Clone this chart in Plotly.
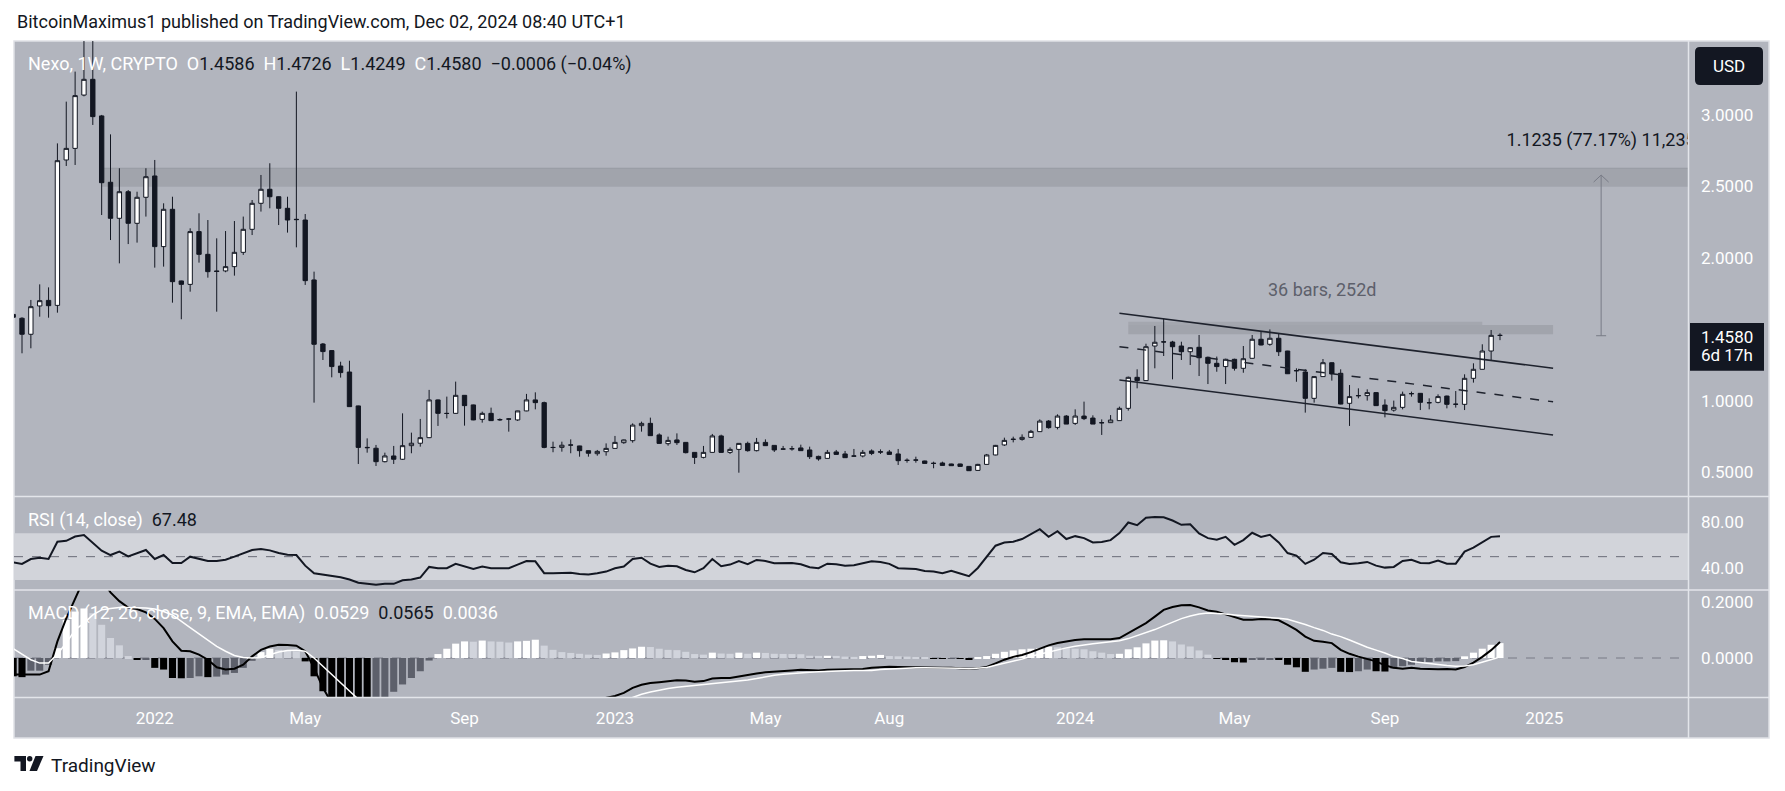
import plotly.graph_objects as go
import pandas as pd

W, H = 1785, 791
FONT = "Roboto, sans-serif"
DARK = "#131722"
BG = "#b2b5be"

# ---------------- data (weekly NEXO/USD) ----------------
FIRST_WEEK = "2021-09-13"
OPEN = [1.605, 1.578, 1.466, 1.664, 1.703, 1.668, 2.685, 2.766, 3.139, 3.249,
        2.993, 2.529, 2.277, 2.463, 2.242, 2.424, 2.573, 2.079, 2.340, 1.839,
        1.815, 2.184, 2.025, 1.909, 1.909, 1.939, 2.039, 2.200, 2.382, 2.480,
        2.428, 2.347, 2.270, 2.265, 1.846, 1.398, 1.352, 1.244, 1.202, 0.965,
        0.675, 0.669, 0.575, 0.615, 0.592, 0.687, 0.704, 0.743, 1.007, 0.913,
        0.913, 1.039, 0.972, 0.871, 0.913, 0.870, 0.874, 0.867, 0.930, 1.007,
        0.988, 0.675, 0.675, 0.692, 0.685, 0.652, 0.631, 0.645, 0.668, 0.708,
        0.722, 0.827, 0.843, 0.762, 0.701, 0.727, 0.710, 0.640, 0.605, 0.640,
        0.755, 0.640, 0.661, 0.703, 0.652, 0.710, 0.689, 0.664, 0.666, 0.671,
        0.657, 0.612, 0.598, 0.643, 0.629, 0.615, 0.615, 0.650, 0.645, 0.643,
        0.629, 0.585, 0.587, 0.580, 0.564, 0.566, 0.559, 0.559, 0.542, 0.514,
        0.556, 0.622, 0.692, 0.730, 0.731, 0.745, 0.785, 0.859, 0.815, 0.894,
        0.843, 0.894, 0.880, 0.848, 0.848, 0.862, 0.948, 1.165, 1.142, 1.384,
        1.412, 1.412, 1.384, 1.344, 1.375, 1.305, 1.263, 1.240, 1.291, 1.228,
        1.298, 1.431, 1.396, 1.438, 1.349, 1.212, 1.202, 1.018, 1.170, 1.267,
        1.193, 0.983, 1.036, 1.037, 1.058, 0.971, 0.936, 0.955, 1.050, 1.053,
        0.988, 0.990, 1.034, 0.976, 0.976, 1.158, 1.221, 1.349, 1.4586]
HIGH = [1.612, 1.585, 1.706, 1.815, 1.794, 2.801, 3.093, 3.303, 3.600, 3.560,
        3.000, 2.864, 2.627, 2.475, 2.463, 2.627, 2.685, 2.382, 2.428, 1.841,
        2.207, 2.312, 2.265, 2.137, 2.188, 2.258, 2.289, 2.405, 2.580, 2.662,
        2.430, 2.428, 3.163, 2.307, 1.904, 1.405, 1.354, 1.274, 1.281, 0.967,
        0.738, 0.692, 0.638, 0.685, 0.913, 0.778, 0.874, 1.077, 1.010, 1.030,
        1.135, 1.041, 0.974, 0.925, 0.953, 0.878, 0.880, 0.931, 1.049, 1.060,
        0.995, 0.715, 0.715, 0.731, 0.686, 0.653, 0.657, 0.703, 0.755, 0.730,
        0.843, 0.855, 0.883, 0.773, 0.750, 0.773, 0.712, 0.641, 0.685, 0.769,
        0.764, 0.675, 0.705, 0.715, 0.741, 0.731, 0.690, 0.685, 0.685, 0.694,
        0.680, 0.617, 0.657, 0.657, 0.650, 0.664, 0.657, 0.661, 0.661, 0.657,
        0.664, 0.598, 0.610, 0.582, 0.575, 0.575, 0.561, 0.561, 0.545, 0.560,
        0.629, 0.692, 0.743, 0.750, 0.766, 0.797, 0.871, 0.866, 0.906, 0.901,
        0.941, 0.995, 0.899, 0.871, 0.901, 0.960, 1.170, 1.221, 1.400, 1.524,
        1.577, 1.420, 1.414, 1.375, 1.461, 1.310, 1.310, 1.295, 1.295, 1.384,
        1.461, 1.484, 1.500, 1.468, 1.350, 1.228, 1.221, 1.172, 1.293, 1.270,
        1.221, 1.111, 1.088, 1.081, 1.060, 1.011, 1.002, 1.065, 1.065, 1.055,
        1.018, 1.046, 1.037, 1.069, 1.186, 1.263, 1.396, 1.496, 1.4726]
LOW = [1.578, 1.333, 1.368, 1.589, 1.582, 1.617, 2.643, 2.650, 3.130, 2.930,
       2.300, 2.125, 1.962, 2.097, 2.107, 2.289, 1.932, 1.939, 1.687, 1.571,
       1.764, 1.967, 1.862, 1.624, 1.900, 1.876, 2.021, 2.160, 2.324, 2.347,
       2.230, 2.177, 2.074, 1.811, 0.988, 1.286, 1.165, 1.163, 0.958, 0.559,
       0.638, 0.545, 0.570, 0.559, 0.587, 0.634, 0.680, 0.740, 0.825, 0.878,
       0.911, 0.827, 0.865, 0.848, 0.860, 0.860, 0.785, 0.860, 0.928, 0.941,
       0.669, 0.641, 0.645, 0.634, 0.610, 0.610, 0.617, 0.617, 0.665, 0.700,
       0.708, 0.785, 0.757, 0.700, 0.687, 0.692, 0.633, 0.559, 0.598, 0.638,
       0.638, 0.629, 0.498, 0.645, 0.647, 0.685, 0.643, 0.657, 0.652, 0.651,
       0.594, 0.582, 0.597, 0.625, 0.602, 0.610, 0.605, 0.621, 0.629, 0.625,
       0.552, 0.568, 0.568, 0.561, 0.529, 0.548, 0.545, 0.540, 0.510, 0.512,
       0.555, 0.620, 0.685, 0.710, 0.722, 0.741, 0.785, 0.806, 0.801, 0.838,
       0.832, 0.866, 0.838, 0.762, 0.847, 0.862, 0.932, 1.088, 1.140, 1.228,
       1.314, 1.151, 1.286, 1.251, 1.174, 1.118, 1.204, 1.118, 1.212, 1.197,
       1.296, 1.389, 1.386, 1.314, 1.188, 1.134, 0.918, 0.988, 1.168, 1.142,
       0.976, 0.825, 1.018, 1.002, 0.965, 0.885, 0.925, 0.941, 1.030, 0.936,
       0.941, 0.983, 0.948, 0.953, 0.936, 1.128, 1.220, 1.286, 1.4249]
CLOSE = [1.585, 1.466, 1.659, 1.701, 1.666, 2.680, 2.766, 3.135, 3.249, 2.988,
         2.526, 2.277, 2.463, 2.242, 2.424, 2.568, 2.079, 2.340, 1.834, 1.815,
         2.184, 2.025, 1.904, 1.905, 1.939, 2.039, 2.200, 2.382, 2.480, 2.428,
         2.347, 2.265, 2.268, 1.841, 1.396, 1.345, 1.240, 1.198, 0.960, 0.675,
         0.673, 0.575, 0.615, 0.592, 0.687, 0.704, 0.743, 1.007, 0.913, 0.912,
         1.039, 0.967, 0.867, 0.913, 0.862, 0.868, 0.873, 0.930, 1.007, 0.988,
         0.675, 0.674, 0.690, 0.691, 0.652, 0.634, 0.647, 0.668, 0.710, 0.727,
         0.831, 0.843, 0.757, 0.703, 0.724, 0.708, 0.638, 0.605, 0.640, 0.755,
         0.640, 0.661, 0.703, 0.652, 0.710, 0.687, 0.657, 0.663, 0.665, 0.652,
         0.610, 0.594, 0.640, 0.626, 0.603, 0.614, 0.640, 0.633, 0.642, 0.626,
         0.582, 0.584, 0.586, 0.563, 0.563, 0.549, 0.547, 0.542, 0.512, 0.556,
         0.622, 0.689, 0.724, 0.732, 0.745, 0.787, 0.859, 0.813, 0.894, 0.838,
         0.894, 0.876, 0.838, 0.847, 0.866, 0.948, 1.165, 1.142, 1.379, 1.410,
         1.413, 1.379, 1.344, 1.372, 1.302, 1.263, 1.240, 1.291, 1.228, 1.295,
         1.431, 1.391, 1.438, 1.344, 1.190, 1.211, 1.018, 1.170, 1.267, 1.188,
         0.978, 1.030, 1.037, 1.058, 0.967, 0.932, 0.955, 1.046, 1.051, 0.990,
         0.987, 1.030, 0.976, 0.977, 1.158, 1.221, 1.349, 1.4586, 1.4580]

RSI = [45.2, 43.8, 48.0, 49.1, 48.0, 62.8, 63.6, 67.3, 68.5, 62.2,
       55.1, 51.4, 54.3, 50.3, 53.1, 55.7, 48.0, 51.4, 44.6, 44.6,
       50.0, 48.0, 46.3, 46.3, 47.4, 50.0, 52.8, 55.7, 56.5, 55.4,
       53.1, 51.7, 51.4, 42.3, 35.8, 34.7, 33.5, 32.4, 30.4, 27.6,
       26.7, 25.9, 26.7, 26.7, 29.8, 30.4, 32.1, 41.2, 40.1, 40.1,
       43.8, 41.8, 39.5, 41.5, 40.1, 40.1, 40.1, 43.2, 46.3, 46.0,
       35.8, 35.8, 36.1, 36.1, 35.2, 34.7, 35.8, 37.2, 40.1, 41.5,
       48.0, 49.1, 44.0, 41.2, 42.3, 41.8, 38.6, 36.6, 40.1, 48.0,
       41.8, 43.2, 46.3, 43.5, 47.2, 46.3, 44.3, 44.6, 44.6, 43.5,
       40.9, 40.1, 44.0, 43.5, 42.3, 42.6, 44.3, 46.0, 45.5, 43.8,
       40.1, 40.1, 39.5, 37.8, 37.2, 35.8, 37.8, 35.5, 33.2, 40.3,
       50.0, 59.4, 62.2, 62.8, 65.1, 69.0, 73.6, 67.0, 71.9, 65.1,
       67.6, 65.9, 62.2, 62.5, 64.2, 70.2, 79.3, 77.0, 83.5, 84.1,
       83.8, 81.0, 77.3, 77.8, 69.9, 65.9, 64.5, 67.0, 60.2, 64.2,
       70.5, 67.0, 68.8, 62.2, 53.1, 50.9, 43.8, 47.4, 53.1, 52.3,
       45.2, 43.8, 44.3, 45.5, 42.3, 40.6, 41.2, 46.3, 47.4, 44.6,
       44.3, 46.6, 44.0, 44.0, 54.3, 57.7, 62.2, 67.0, 67.48]

MACD = [-0.059, -0.059, -0.059, -0.059, -0.047, 0.059, 0.141, 0.212, 0.280, 0.310,
        0.280, 0.233, 0.202, 0.179, 0.174, 0.162, 0.139, 0.106, 0.059, 0.026,
        0.024, 0.012, -0.006, -0.033, -0.041, -0.038, -0.024, 0.006, 0.029, 0.041,
        0.047, 0.046, 0.044, 0.024, -0.035, -0.106, -0.160, -0.200, -0.240, -0.290,
        -0.310, -0.320, -0.320, -0.310, -0.300, -0.280, -0.260, -0.240, -0.235, -0.225,
        -0.210, -0.200, -0.195, -0.190, -0.185, -0.180, -0.175, -0.170, -0.160, -0.150,
        -0.155, -0.160, -0.160, -0.158, -0.155, -0.152, -0.148, -0.142, -0.135, -0.124,
        -0.106, -0.095, -0.089, -0.086, -0.082, -0.079, -0.080, -0.084, -0.082, -0.073,
        -0.071, -0.071, -0.066, -0.060, -0.055, -0.051, -0.048, -0.046, -0.044, -0.042,
        -0.044, -0.044, -0.042, -0.041, -0.041, -0.041, -0.039, -0.035, -0.033, -0.031,
        -0.032, -0.033, -0.033, -0.033, -0.034, -0.035, -0.035, -0.036, -0.038, -0.036,
        -0.032, -0.019, -0.006, 0.004, 0.011, 0.021, 0.033, 0.045, 0.053, 0.059,
        0.064, 0.067, 0.067, 0.067, 0.067, 0.071, 0.089, 0.104, 0.124, 0.147,
        0.171, 0.181, 0.187, 0.188, 0.180, 0.169, 0.164, 0.155, 0.146, 0.136,
        0.136, 0.139, 0.138, 0.134, 0.118, 0.100, 0.076, 0.061, 0.058, 0.053,
        0.029, 0.015, 0.005, -0.004, -0.012, -0.026, -0.035, -0.038, -0.035, -0.038,
        -0.040, -0.040, -0.039, -0.041, -0.032, -0.016, 0.004, 0.028, 0.0565]

SIGNAL = [0.033, 0.014, -0.006, -0.018, -0.018, 0.014, 0.053, 0.100, 0.124, 0.153,
          0.171, 0.176, 0.179, 0.179, 0.179, 0.178, 0.174, 0.165, 0.153, 0.132,
          0.108, 0.086, 0.065, 0.041, 0.024, 0.009, 0.002, 0.000, 0.002, 0.012,
          0.021, 0.027, 0.028, 0.024, 0.000, -0.029, -0.059, -0.088, -0.118, -0.145,
          -0.175, -0.205, -0.225, -0.240, -0.250, -0.255, -0.258, -0.255, -0.249, -0.258,
          -0.261, -0.259, -0.254, -0.252, -0.244, -0.239, -0.230, -0.229, -0.221, -0.215,
          -0.199, -0.189, -0.181, -0.176, -0.170, -0.164, -0.160, -0.158, -0.155, -0.152,
          -0.140, -0.129, -0.121, -0.114, -0.108, -0.104, -0.101, -0.098, -0.095, -0.092,
          -0.087, -0.084, -0.081, -0.078, -0.073, -0.067, -0.061, -0.058, -0.055, -0.052,
          -0.051, -0.049, -0.047, -0.046, -0.045, -0.044, -0.045, -0.044, -0.041, -0.039,
          -0.038, -0.036, -0.035, -0.035, -0.035, -0.035, -0.035, -0.036, -0.038, -0.036,
          -0.034, -0.026, -0.019, -0.011, -0.004, 0.006, 0.014, 0.022, 0.029, 0.036,
          0.042, 0.047, 0.051, 0.054, 0.058, 0.061, 0.069, 0.079, 0.091, 0.101,
          0.114, 0.128, 0.140, 0.149, 0.156, 0.160, 0.159, 0.156, 0.153, 0.151,
          0.148, 0.146, 0.144, 0.141, 0.138, 0.129, 0.119, 0.108, 0.098, 0.085,
          0.076, 0.064, 0.051, 0.038, 0.028, 0.018, 0.005, -0.002, -0.012, -0.016,
          -0.021, -0.025, -0.027, -0.029, -0.028, -0.024, -0.015, -0.008, 0.0036]

HIST = [-0.065, -0.068, -0.045, -0.045, -0.024, 0.035, 0.135, 0.165, 0.176, 0.159,
        0.118, 0.071, 0.045, 0.007, -0.005, -0.004, -0.035, -0.041, -0.071, -0.072,
        -0.071, -0.065, -0.068, -0.066, -0.059, -0.053, -0.035, -0.010, 0.021, 0.033,
        0.029, 0.026, 0.024, -0.012, -0.065, -0.118, -0.140, -0.150, -0.160, -0.170,
        -0.175, -0.160, -0.140, -0.120, -0.094, -0.071, -0.047, -0.009, 0.014, 0.033,
        0.051, 0.059, 0.058, 0.062, 0.059, 0.058, 0.055, 0.059, 0.061, 0.065,
        0.044, 0.029, 0.021, 0.018, 0.015, 0.012, 0.011, 0.016, 0.020, 0.028,
        0.034, 0.040, 0.039, 0.033, 0.029, 0.028, 0.022, 0.014, 0.012, 0.019,
        0.016, 0.015, 0.019, 0.015, 0.019, 0.018, 0.015, 0.0145, 0.014, 0.0135,
        0.008, 0.0075, 0.008, 0.0075, 0.005, 0.004, 0.007, 0.008, 0.011, 0.007,
        0.006, 0.005, 0.002, 0.001, -0.001, -0.0015, -0.0015, -0.002, -0.004, 0.001,
        0.007, 0.015, 0.022, 0.027, 0.031, 0.033, 0.035, 0.040, 0.038, 0.036,
        0.033, 0.031, 0.024, 0.019, 0.014, 0.015, 0.031, 0.038, 0.052, 0.062,
        0.063, 0.059, 0.048, 0.041, 0.027, 0.012, -0.001, -0.004, -0.015, -0.016,
        -0.007, -0.006, -0.005, -0.007, -0.024, -0.033, -0.049, -0.041, -0.038, -0.035,
        -0.049, -0.050, -0.047, -0.041, -0.047, -0.048, -0.038, -0.029, -0.024, -0.018,
        -0.014, -0.012, -0.012, -0.011, 0.006, 0.019, 0.033, 0.047, 0.0529]

DATES = pd.date_range(FIRST_WEEK, periods=len(CLOSE), freq="7D")

DATE_TICKS = ["2022-01-03", "2022-05-02", "2022-09-05", "2023-01-02", "2023-05-01",
              "2023-08-07", "2024-01-01", "2024-05-06", "2024-09-02", "2025-01-06"]
DATE_LABELS = ["2022", "May", "Sep", "2023", "May", "Aug", "2024", "May", "Sep", "2025"]
PRICE_TICKS = [0.5, 1.0, 2.0, 2.5, 3.0]
RSI_TICKS = [40, 80]
MACD_TICKS = [0.0, 0.2]

# drawings
RESIST_START, RESIST_LOW, RESIST_HIGH = "2021-11-22", 2.498, 2.627
CH_START, CH_END = "2024-02-05", "2025-01-13"
CH_UPPER = (1.613, 1.228)
CH_MID = (1.379, 0.994)
CH_LOWER = (1.146, 0.762)
BOX_START = "2024-02-12"
BOX_A = ("2024-11-18", 1.531, 1.554)
BOX_B = ("2025-01-13", 1.466, 1.531)
MEASURE_X, MEASURE_FROM, MEASURE_TO = "2025-02-20", 1.4559, 2.5794
MEASURE_LABEL_Y = 2.813
RANGE_LABEL_X, RANGE_LABEL_Y = "2024-07-15", 1.780

X_RANGE = ["2021-09-13 16:00", "2025-04-29 17:00"]

# ---------------- helpers (pixel layout -> paper) ----------------
def px(x):
    return x / W

def py(y):
    return 1 - y / H

def rrect_path(x0, y0, x1, y1, r):
    pts = [("M", x0 + r, y0), ("L", x1 - r, y0), ("Q", x1, y0, x1, y0 + r),
           ("L", x1, y1 - r), ("Q", x1, y1, x1 - r, y1), ("L", x0 + r, y1),
           ("Q", x0, y1, x0, y1 - r), ("L", x0, y0 + r), ("Q", x0, y0, x0 + r, y0)]
    s = ""
    for p in pts:
        if p[0] == "Q":
            s += f"Q{px(p[1]):.6f},{py(p[2]):.6f} {px(p[3]):.6f},{py(p[4]):.6f} "
        else:
            s += f"{p[0]}{px(p[1]):.6f},{py(p[2]):.6f} "
    return s + "Z"

X_DOM = [px(14), px(1688)]
Y_MAIN = [py(496), py(41)]
Y_RSI = [py(590), py(497)]
Y_MACD = [py(697), py(590)]

# histogram colours (TradingView style, monochrome theme)
hist_colors = []
prev = 0.0
for h in HIST:
    if h >= 0:
        hist_colors.append("#ffffff" if h > prev else "#d1d4dc")
    else:
        hist_colors.append("#000000" if h < prev else "#5d606b")
    prev = h

fig = go.Figure()

fig.add_trace(go.Candlestick(
    x=DATES, open=OPEN, high=HIGH, low=LOW, close=CLOSE,
    increasing=dict(line=dict(color=DARK, width=1), fillcolor="#ffffff"),
    decreasing=dict(line=dict(color=DARK, width=1), fillcolor=DARK),
    whiskerwidth=0, showlegend=False, hoverinfo="skip", xaxis="x", yaxis="y"))

fig.add_trace(go.Scatter(x=DATES, y=RSI, mode="lines", line=dict(color=DARK, width=2),
                         showlegend=False, hoverinfo="skip", xaxis="x", yaxis="y2"))

fig.add_trace(go.Bar(x=DATES, y=HIST, marker=dict(color=hist_colors, line=dict(width=0)),
                     width=7 * 86400000 * 0.8, showlegend=False, hoverinfo="skip",
                     xaxis="x", yaxis="y3"))
fig.add_trace(go.Scatter(x=DATES, y=MACD, mode="lines", line=dict(color="#000000", width=2),
                         showlegend=False, hoverinfo="skip", xaxis="x", yaxis="y3"))
fig.add_trace(go.Scatter(x=DATES, y=SIGNAL, mode="lines", line=dict(color="#ffffff", width=1.5),
                         showlegend=False, hoverinfo="skip", xaxis="x", yaxis="y3"))

# measurement label (clipped at price axis like the original)
fig.add_trace(go.Scatter(x=[MEASURE_X], y=[MEASURE_LABEL_Y], mode="text",
                         text=["1.1235 (77.17%) 11,235"], textposition="middle center",
                         textfont=dict(family=FONT, size=18, color=DARK), cliponaxis=True,
                         showlegend=False, hoverinfo="skip", xaxis="x", yaxis="y"))

shapes = []
# chart frame background
shapes.append(dict(type="rect", xref="paper", yref="paper", x0=px(14), x1=px(1769),
                   y0=py(738), y1=py(41), fillcolor=BG,
                   line=dict(color="#dfe1e6", width=1.5), layer="below"))
# separators
for yy in (496.5, 590, 697.5):
    shapes.append(dict(type="line", xref="paper", yref="paper", x0=px(14), x1=px(1769),
                       y0=py(yy), y1=py(yy), line=dict(color="#e3e5ea", width=1.5)))
shapes.append(dict(type="line", xref="paper", yref="paper", x0=px(1688.5), x1=px(1688.5),
                   y0=py(738), y1=py(41), line=dict(color="#e3e5ea", width=1.5)))

# resistance band
shapes.append(dict(type="rect", xref="x", yref="y", x0=RESIST_START, x1=X_RANGE[1],
                   y0=RESIST_LOW, y1=RESIST_HIGH, fillcolor="#a1a4ac",
                   line=dict(width=0), layer="below"))
shapes.append(dict(type="line", xref="x", yref="y", x0=RESIST_START, x1=X_RANGE[1],
                   y0=RESIST_HIGH, y1=RESIST_HIGH, line=dict(color="#979aa3", width=1),
                   layer="below"))
# small range boxes
shapes.append(dict(type="rect", xref="x", yref="y", x0=BOX_START, x1=BOX_A[0],
                   y0=BOX_A[1], y1=BOX_A[2], fillcolor="#a4a7af", line=dict(width=0),
                   layer="below"))
shapes.append(dict(type="rect", xref="x", yref="y", x0=BOX_START, x1=BOX_B[0],
                   y0=BOX_B[1], y1=BOX_B[2], fillcolor="#a1a4ac", line=dict(width=0),
                   layer="below"))
# channel
for (a, b), dash in ((CH_UPPER, "solid"), (CH_MID, "dash"), (CH_LOWER, "solid")):
    shapes.append(dict(type="line", xref="x", yref="y", x0=CH_START, x1=CH_END,
                       y0=a, y1=b, line=dict(color="#1e222d", width=1.5, dash=dash)))
# measure arrow
shapes.append(dict(type="line", xref="x", yref="y", x0=MEASURE_X, x1=MEASURE_X,
                   y0=MEASURE_FROM, y1=MEASURE_TO, line=dict(color="#787b86", width=1)))
shapes.append(dict(type="path", xref="x", yref="y", xsizemode="pixel", ysizemode="pixel",
                   xanchor=MEASURE_X, yanchor=MEASURE_TO,
                   path="M -7.5,-7 L 0,0 L 7.5,-7", line=dict(color="#787b86", width=1)))
shapes.append(dict(type="path", xref="x", yref="y", xsizemode="pixel", ysizemode="pixel",
                   xanchor=MEASURE_X, yanchor=MEASURE_FROM,
                   path="M -5,0 L 5,0", line=dict(color="#787b86", width=1)))

# RSI band and midline
shapes.append(dict(type="rect", xref="paper", yref="y2", x0=X_DOM[0], x1=X_DOM[1],
                   y0=30, y1=70, fillcolor="#d2d4da", line=dict(width=0), layer="below"))
shapes.append(dict(type="line", xref="paper", yref="y2", x0=X_DOM[0], x1=X_DOM[1],
                   y0=50, y1=50, line=dict(color="#6a6d78", width=1, dash="dash"),
                   layer="below"))
# MACD zero line
shapes.append(dict(type="line", xref="paper", yref="y3", x0=X_DOM[0], x1=X_DOM[1],
                   y0=0, y1=0, line=dict(color="#787b86", width=1, dash="dash"),
                   layer="below"))

# USD box
shapes.append(dict(type="path", xref="paper", yref="paper",
                   path=rrect_path(1695, 47, 1763, 85, 5), fillcolor=DARK,
                   line=dict(width=0)))
# last price box
last = CLOSE[-1]
shapes.append(dict(type="rect", xref="paper", yref="y", xsizemode="pixel", ysizemode="pixel",
                   xanchor=px(1688), x0=2, x1=76, yanchor=last, y0=-35.3, y1=12.4,
                   fillcolor=DARK, line=dict(width=0)))

# TradingView logo
shapes.append(dict(type="path", xref="paper", yref="paper",
                   path=(f"M{px(14.4)},{py(756)} L{px(26)},{py(756)} L{px(26)},{py(771)} "
                         f"L{px(20.5)},{py(771)} L{px(20.5)},{py(761.5)} L{px(14.4)},{py(761.5)} Z"),
                   fillcolor=DARK, line=dict(width=0)))
shapes.append(dict(type="circle", xref="paper", yref="paper", x0=px(27), x1=px(32.4),
                   y0=py(761.4), y1=py(756), fillcolor=DARK, line=dict(width=0)))
shapes.append(dict(type="path", xref="paper", yref="paper",
                   path=(f"M{px(35.5)},{py(756)} L{px(43.5)},{py(756)} L{px(37)},{py(771)} "
                         f"L{px(29.5)},{py(771)} Z"),
                   fillcolor=DARK, line=dict(width=0)))

NB = "\u00a0"
W_ = "#ffffff"


def span(t, c):
    return f"<span style='color:{c}'>{t}</span>"


chg = CLOSE[-1] - CLOSE[-2]
pct = chg / CLOSE[-2] * 100
chg_s = f"{chg:+.4f}".replace("-", "\u2212")
pct_s = f"{pct:+.2f}%".replace("-", "\u2212")
legend = (span("Nexo, 1W, CRYPTO", W_) + NB * 2 +
          span("O", W_) + span(f"{OPEN[-1]:.4f}", DARK) + NB * 2 +
          span("H", W_) + span(f"{HIGH[-1]:.4f}", DARK) + NB * 2 +
          span("L", W_) + span(f"{LOW[-1]:.4f}", DARK) + NB * 2 +
          span("C", W_) + span(f"{CLOSE[-1]:.4f}", DARK) + NB * 2 +
          span(f"{chg_s} ({pct_s})", DARK))
rsi_title = span("RSI (14, close)", W_) + NB * 2 + span(f"{RSI[-1]:.2f}", DARK)
macd_title = (span("MACD (12, 26, close, 9, EMA, EMA)", W_) + NB * 2 +
              span(f"{HIST[-1]:.4f}", W_) + NB * 2 + span(f"{MACD[-1]:.4f}", DARK) + NB * 2 +
              span(f"{SIGNAL[-1]:.4f}", W_))

ann = []


def txt(x, y, text, size=18, color=DARK, xanchor="left", **kw):
    d = dict(x=x, y=y, text=text, showarrow=False, xanchor=xanchor, yanchor="middle",
             font=dict(family=FONT, size=size, color=color))
    d.update(kw)
    if "xref" not in d:
        d["xref"] = "paper"
    if "yref" not in d:
        d["yref"] = "paper"
    ann.append(d)


txt(px(15), py(21.5), "BitcoinMaximus1 published on TradingView.com, Dec 02, 2024 08:40 UTC+1",
    size=18)
txt(px(26), py(64), legend, size=18)
txt(px(26), py(520), rsi_title, size=18)
txt(px(26), py(613), macd_title, size=18)
txt(px(1729), py(66), "USD", size=17, color="#ffffff", xanchor="center")
txt(px(1727), last, f"{last:.4f}", size=17, color="#ffffff", xanchor="center", yref="y",
    yshift=-1.3)
txt(px(1727), last, "6d 17h", size=17, color="#ffffff", xanchor="center", yref="y",
    yshift=-20)
txt(RANGE_LABEL_X, RANGE_LABEL_Y, "36 bars, 252d", size=18, color="#5d606b",
    xanchor="center", xref="x", yref="y")
txt(px(49), py(765), "TradingView", size=19, color=DARK)

axis_font = dict(family=FONT, size=17, color="#ffffff")

fig.update_layout(
    width=W, height=H, margin=dict(l=0, r=0, t=0, b=0),
    paper_bgcolor="#ffffff", plot_bgcolor="rgba(0,0,0,0)",
    showlegend=False, shapes=shapes, annotations=ann,
    xaxis=dict(domain=X_DOM, range=X_RANGE, type="date", anchor="y3",
               showgrid=False, zeroline=False, showline=False, ticks="",
               tickvals=DATE_TICKS, ticktext=DATE_LABELS, tickfont=axis_font,
               ticklabelstandoff=9, rangeslider=dict(visible=False), fixedrange=True),
    yaxis=dict(domain=Y_MAIN, range=[0.335, 3.517], side="right", anchor="x",
               showgrid=False, zeroline=False, showline=False, ticks="",
               tickvals=PRICE_TICKS, ticktext=[f"{v:.4f}" for v in PRICE_TICKS],
               tickfont=axis_font, ticklabelstandoff=12),
    yaxis2=dict(domain=Y_RSI, range=[21.4, 101.2], side="right", anchor="x",
                showgrid=False, zeroline=False, showline=False, ticks="",
                tickvals=RSI_TICKS, ticktext=[f"{v:.2f}" for v in RSI_TICKS],
                tickfont=axis_font, ticklabelstandoff=12),
    yaxis3=dict(domain=Y_MACD, range=[-0.1385, 0.2416], side="right", anchor="x",
                showgrid=False, zeroline=False, showline=False, ticks="",
                tickvals=MACD_TICKS, ticktext=[f"{v:.4f}" for v in MACD_TICKS],
                tickfont=axis_font, ticklabelstandoff=12),
)

fig.write_html("out.html")
